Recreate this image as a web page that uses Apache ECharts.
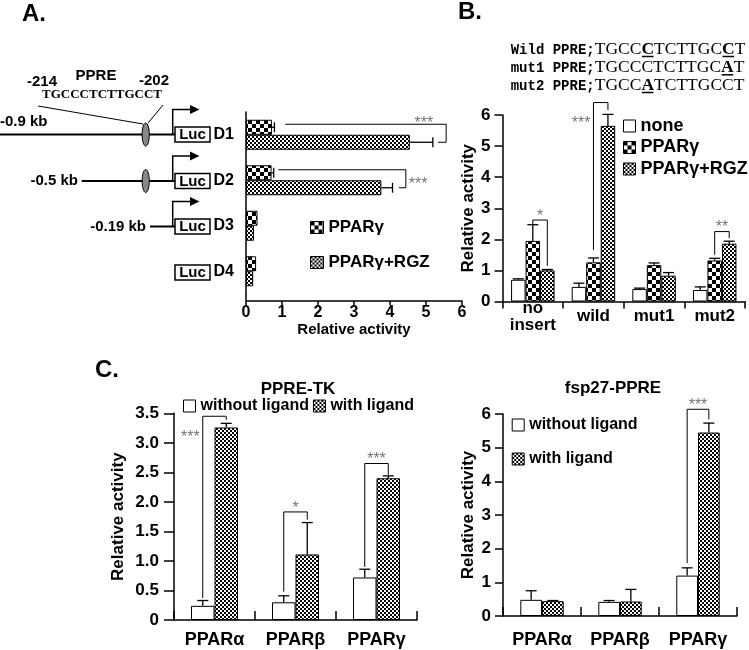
<!DOCTYPE html>
<html><head><meta charset="utf-8">
<script src="https://cdn.jsdelivr.net/npm/echarts@6/dist/echarts.min.js"></script>
<style>html,body{margin:0;padding:0;background:#fff}#c{width:749px;height:650px}</style>
</head><body><div id="c"></div>
<script>
// ---------- DATA ----------
// Panel A (horizontal bars)
const aCategories = ['D1', 'D2', 'D3', 'D4'];
const aPPARg = [0.72, 0.71, 0.32, 0.28];
const aPPARgErr = [0.07, 0.06, 0, 0];
const aRGZ = [4.55, 3.76, 0.22, 0.20];
const aRGZErr = [0.64, 0.31, 0, 0];
// brackets: [row, startX, cornerX, endX]
const aSig = [[0, 1.09, 5.56, 5.33], [1, 0.90, 4.44, 4.25]];
const aSigText = ['***', '***'];
const aSigPlace = ['topEnd', 'right'];

// Panel B
const bCategories = ['no\ninsert', 'wild', 'mut1', 'mut2'];
const bNone = [0.70, 0.47, 0.40, 0.37];
const bNoneErr = [0.03, 0.12, 0.03, 0.10];
const bPPARg = [1.95, 1.26, 1.17, 1.32];
const bPPARgErr = [0.52, 0.14, 0.07, 0.07];
const bRGZ = [1.00, 5.65, 0.83, 1.86];
const bRGZErr = [0.03, 0.37, 0.10, 0.08];
// brackets: [category, fromBar, toBar, startY, topY, endY]
const bSig = [[0, 1, 2, 2.46, 2.62, 1.15], [1, 1, 2, 1.66, 6.40, 6.16], [3, 1, 2, 1.50, 2.25, 2.04]];
const bSigText = ['*', '***', '**'];
const bSigPlace = ['top', 'left', 'top'];
const bSeqLines = [
  { label: 'Wild PPRE;', seq: 'TGCCCTCTTGCCT', marks: [4, 11] },
  { label: 'mut1 PPRE;', seq: 'TGCCCTCTTGCAT', marks: [11] },
  { label: 'mut2 PPRE;', seq: 'TGCCATCTTGCCT', marks: [4] }
];

// Panel C
const cCategories = ['PPARα', 'PPARβ', 'PPARγ'];
const tkWithout = [0.24, 0.30, 0.72];
const tkWithoutErr = [0.09, 0.11, 0.14];
const tkWith = [3.26, 1.11, 2.40];
const tkWithErr = [0.07, 0.54, 0.04];
const tkSig = [[0, 0, 1, 0.37, 3.45, 3.39], [1, 0, 1, 0.48, 1.83, 1.70], [2, 0, 1, 0.90, 2.65, 2.46]];
const tkSigText = ['***', '*', '***'];
const tkSigPlace = ['left', 'top', 'top'];

const fspWithout = [0.48, 0.42, 1.20];
const fspWithoutErr = [0.27, 0.04, 0.23];
const fspWith = [0.44, 0.43, 5.45];
const fspWithErr = [0.02, 0.36, 0.28];
const fspSig = [[2, 0, 1, 1.57, 6.14, 5.84]];
const fspSigText = ['***'];
const fspSigPlace = ['top'];

// ---------- STYLE HELPERS ----------
const FONT = '"Liberation Sans", Arial, Helvetica, sans-serif';
const SERIF = '"Liberation Serif", "Times New Roman", serif';
const MONO = '"Liberation Mono", "Courier New", monospace';

function checker(cell, dark) {
  const c = document.createElement('canvas');
  c.width = c.height = cell * 2;
  const x = c.getContext('2d');
  x.fillStyle = '#fff'; x.fillRect(0, 0, cell * 2, cell * 2);
  x.fillStyle = dark; x.fillRect(0, 0, cell, cell); x.fillRect(cell, cell, cell, cell);
  return c;
}
const COARSE = { image: checker(4, '#000'), repeat: 'repeat' };
const FINE = { image: checker(2, '#000'), repeat: 'repeat' };
const WHITE = '#fff';

const lbl = (size, extra) => Object.assign({ color: '#000', fontFamily: FONT, fontWeight: 'bold', fontSize: size }, extra || {});
const AX = { show: true, lineStyle: { color: '#000', width: 1.5 } };
const TICK = (len, inside) => ({ show: true, length: len, inside: !!inside, lineStyle: { color: '#000', width: 1.5 } });

function barSeries(name, xi, yi, data, color, bw) {
  return { type: 'bar', name, xAxisIndex: xi, yAxisIndex: yi, data, barWidth: bw, barGap: '0%',
    itemStyle: { color, borderColor: '#000', borderWidth: 1 }, silent: true, z: 2 };
}

function errSeries(xi, yi, vals, errs, bi, n, bw, horiz) {
  return {
    type: 'custom', name: 'err', xAxisIndex: xi, yAxisIndex: yi, z: 4, silent: true, clip: false,
    encode: horiz ? { x: 1, y: 0 } : { x: 0, y: 1 },
    data: vals.map((v, i) => [i, v, errs[i]]),
    renderItem(params, api) {
      const c = api.value(0), v = api.value(1), e = api.value(2);
      if (!e) return { type: 'group', children: [] };
      const off = (bi - (n - 1) / 2) * bw;
      const st = { stroke: '#000', lineWidth: 1.3 };
      if (horiz) {
        const p0 = api.coord([v, c]), p1 = api.coord([v + e, c]);
        const y = p0[1] + off;
        return { type: 'group', children: [
          { type: 'line', shape: { x1: p0[0], y1: y, x2: p1[0], y2: y }, style: st },
          { type: 'line', shape: { x1: p1[0], y1: y - 5, x2: p1[0], y2: y + 5 }, style: st }] };
      }
      const p0 = api.coord([c, v]), p1 = api.coord([c, v + e]);
      const x = p0[0] + off;
      return { type: 'group', children: [
        { type: 'line', shape: { x1: x, y1: p0[1], x2: x, y2: p1[1] }, style: st },
        { type: 'line', shape: { x1: x - 5.5, y1: p1[1], x2: x + 5.5, y2: p1[1] }, style: st }] };
    }
  };
}

function sigSeries(xi, yi, rows, texts, places, n, bw) {
  return {
    type: 'custom', name: 'sig', xAxisIndex: xi, yAxisIndex: yi, z: 5, silent: true, clip: false,
    encode: { x: 0, y: 3 },
    data: rows,
    renderItem(params, api) {
      const cat = api.value(0), b0 = api.value(1), b1 = api.value(2);
      const y0 = api.value(3), yt = api.value(4), y1 = api.value(5);
      const off = b => (b - (n - 1) / 2) * bw;
      const base = api.coord([cat, 0])[0];
      const xa = base + off(b0), xb = base + off(b1);
      const pa = api.coord([cat, y0])[1], pt = api.coord([cat, yt])[1], pb = api.coord([cat, y1])[1];
      const text = texts[params.dataIndex], place = places[params.dataIndex];
      let tx, ty, align;
      if (place === 'left') { tx = xa - 3; ty = pt + 21; align = 'right'; }
      else { tx = (xa + xb) / 2; ty = pt - 3.5; align = 'center'; }
      return { type: 'group', children: [
        { type: 'polyline', shape: { points: [[xa, pa], [xa, pt], [xb, pt], [xb, pb]] }, style: { stroke: '#000', lineWidth: 1, fill: null } },
        { type: 'text', x: tx, y: ty, style: { text, fill: '#777', font: '16px ' + FONT, align, verticalAlign: 'middle' } }] };
    }
  };
}

function sigSeriesH(xi, yi, rows, texts, places, n, bw) {
  return {
    type: 'custom', name: 'sigH', xAxisIndex: xi, yAxisIndex: yi, z: 5, silent: true, clip: false,
    encode: { x: 1, y: 0 },
    data: rows,
    renderItem(params, api) {
      const r = api.value(0), sx = api.value(1), cx = api.value(2), ex = api.value(3);
      const off = b => (b - (n - 1) / 2) * bw;
      const yc = api.coord([0, r])[1];
      const ya = yc + off(0) - 3, yb = yc + off(1);
      const X = v => api.coord([v, r])[0];
      const text = texts[params.dataIndex], place = places[params.dataIndex];
      let tx, ty, align;
      if (place === 'topEnd') { tx = X(cx) - 13; ty = ya - 1; align = 'right'; }
      else { tx = X(cx) + 3; ty = (ya + yb) / 2 + 5.5; align = 'left'; }
      return { type: 'group', children: [
        { type: 'polyline', shape: { points: [[X(sx), ya], [X(cx), ya], [X(cx), yb], [X(ex), yb]] }, style: { stroke: '#000', lineWidth: 1, fill: null } },
        { type: 'text', x: tx, y: ty, style: { text, fill: '#777', font: '16px ' + FONT, align, verticalAlign: 'middle' } }] };
    }
  };
}

// ---------- GRAPHIC (diagram + panel text) ----------
const g = [];
function T(x, y, text, size, align, font) {
  g.push({ type: 'text', x, y, silent: true, z: 20,
    style: { text, font: font || ('bold ' + size + 'px ' + FONT), fill: '#000', align: align || 'left', verticalAlign: 'middle' } });
}
function L(x1, y1, x2, y2, w) {
  g.push({ type: 'line', silent: true, z: 10, shape: { x1, y1, x2, y2 }, style: { stroke: '#000', lineWidth: w || 1 } });
}
T(22, 14, 'A.', 24);
T(458, 12, 'B.', 24);
T(95, 370, 'C.', 24);

// Panel A promoter diagram
T(96, 76, 'PPRE', 15, 'center');
T(42, 82, '-214', 15, 'center');
T(154, 81, '-202', 15, 'center');
T(102, 95, 'TGCCCTCTTGCCT', 13, 'center', 'bold 13px ' + SERIF);
L(38, 106, 143, 124, 1);
L(163, 105, 148, 123, 1);
const diagRows = [
  { y: 134.5, start: 0, label: '-0.9 kb', lx: 0, ly: 121.7, la: 'left', ppre: true },
  { y: 181, start: 81.7, label: '-0.5 kb', lx: 78, ly: 181, la: 'right', ppre: true },
  { y: 226.5, start: 150, label: '-0.19 kb', lx: 146, ly: 226.5, la: 'right', ppre: false },
  { y: 272.5 }
];
diagRows.forEach(r => {
  if (r.start !== undefined) {
    L(r.start, r.y, 175, r.y, 2);
    T(r.lx, r.ly, r.label, 15, r.la);
    if (r.ppre) g.push({ type: 'ellipse', silent: true, z: 11, shape: { cx: 145.7, cy: r.y, rx: 3.6, ry: 11.5 }, style: { fill: '#888', stroke: '#000', lineWidth: 1 } });
    const ay = r.y - 25;
    g.push({ type: 'polyline', silent: true, z: 10, shape: { points: [[172.7, r.y], [172.7, ay], [191, ay]] }, style: { stroke: '#000', lineWidth: 1.5, fill: null } });
    g.push({ type: 'polygon', silent: true, z: 10, shape: { points: [[190, ay - 4.5], [199.5, ay], [190, ay + 4.5]] }, style: { fill: '#000' } });
  }
  g.push({ type: 'rect', silent: true, z: 11, shape: { x: 175, y: r.y - 7.5, width: 35, height: 15 }, style: { fill: '#fff', stroke: '#000', lineWidth: 1.5 } });
  T(192.5, r.y + 0.5, 'Luc', 15, 'center');
});
// join of panel A axes (x axis sits slightly below the last row band)
L(246, 294, 246, 301, 1.5);

// Panel B sequences
(function () {
  const ctx = document.createElement('canvas').getContext('2d');
  const monoFont = 'bold 14px ' + MONO;
  const serifFont = '17.5px ' + SERIF;
  const serifBold = 'bold 17.5px ' + SERIF;
  const ys = [50, 68.3, 86];
  bSeqLines.forEach((ln, k) => {
    const y = ys[k];
    let x = 510.7;
    g.push({ type: 'text', silent: true, z: 20, x, y, style: { text: ln.label, font: monoFont, fill: '#000', align: 'left', verticalAlign: 'middle' } });
    ctx.font = monoFont;
    x += ctx.measureText(ln.label).width;
    for (let i = 0; i < ln.seq.length; i++) {
      const ch = ln.seq[i];
      const marked = ln.marks.indexOf(i) >= 0;
      const f = marked ? serifBold : serifFont;
      ctx.font = f;
      const w = ctx.measureText(ch).width;
      g.push({ type: 'text', silent: true, z: 20, x, y: y - 1, style: { text: ch, font: f, fill: '#000', align: 'left', verticalAlign: 'middle' } });
      if (marked) L(x + 0.5, y + 6.5, x + w - 0.5, y + 6.5, 1.5);
      x += w;
    }
  });
})();

// Panel C titles
T(298, 389, 'PPRE-TK', 17, 'center');
T(613, 388, 'fsp27-PPRE', 17, 'center');

// ---------- CHART ----------
const chart = echarts.init(document.getElementById('c'), null, { renderer: 'canvas' });
const option = {
  animation: false,
  backgroundColor: '#fff',
  grid: [
    { left: 246, top: 112, width: 216, height: 182 },
    { left: 502.5, top: 115, width: 242.5, height: 186.5 },
    { left: 174, top: 413.3, width: 243, height: 206.7 },
    { left: 503, top: 414, width: 234, height: 202 }
  ],
  xAxis: [
    { gridIndex: 0, type: 'value', min: 0, max: 6, interval: 1, offset: 7,
      axisLine: AX, axisTick: TICK(4), splitLine: { show: false },
      axisLabel: lbl(16, { margin: 12, verticalAlign: 'middle' }),
      name: 'Relative activity', nameLocation: 'middle', nameGap: 27,
      nameTextStyle: lbl(15, { verticalAlign: 'middle' }) },
    { gridIndex: 1, type: 'category', data: bCategories,
      axisLine: AX, axisTick: Object.assign(TICK(7), { interval: 0, alignWithLabel: false }),
      axisLabel: lbl(17, { margin: 15, verticalAlign: 'middle', lineHeight: 17, interval: 0 }) },
    { gridIndex: 2, type: 'category', data: cCategories,
      axisLine: AX, axisTick: Object.assign(TICK(9, true), { interval: 0 }),
      axisLabel: lbl(18, { margin: 20, verticalAlign: 'middle', interval: 0 }) },
    { gridIndex: 3, type: 'category', data: cCategories,
      axisLine: AX, axisTick: Object.assign(TICK(9, true), { interval: 0 }),
      axisLabel: lbl(18, { margin: 24, verticalAlign: 'middle', interval: 0 }) }
  ],
  yAxis: [
    { gridIndex: 0, type: 'category', data: aCategories, inverse: true,
      axisLine: AX, axisTick: { show: false }, axisLabel: lbl(16, { margin: 12 }) },
    { gridIndex: 1, type: 'value', min: 0, max: 6, interval: 1,
      axisLine: AX, axisTick: TICK(8), splitLine: { show: false },
      axisLabel: lbl(17, { margin: 12 }),
      name: 'Relative activity', nameLocation: 'middle', nameGap: 31.5,
      nameTextStyle: lbl(17, { verticalAlign: 'middle' }) },
    { gridIndex: 2, type: 'value', min: 0, max: 3.5, interval: 0.5,
      axisLine: AX, axisTick: TICK(10), splitLine: { show: false },
      axisLabel: lbl(17, { margin: 15, formatter: v => (v === 0 ? '0' : v.toFixed(1)) }),
      name: 'Relative activity', nameLocation: 'middle', nameGap: 56,
      nameTextStyle: lbl(17, { verticalAlign: 'middle' }) },
    { gridIndex: 3, type: 'value', min: 0, max: 6, interval: 1,
      axisLine: AX, axisTick: TICK(8), splitLine: { show: false },
      axisLabel: lbl(17, { margin: 12 }),
      name: 'Relative activity', nameLocation: 'middle', nameGap: 35,
      nameTextStyle: lbl(17, { verticalAlign: 'middle' }) }
  ],
  legend: [
    { data: ['PPARγ', 'PPARγ+RGZ'], orient: 'vertical', left: 310, top: 219, padding: 0,
      icon: 'rect', itemWidth: 13, itemHeight: 12, itemGap: 18, selectedMode: false,
      itemStyle: { borderColor: '#000', borderWidth: 1 }, textStyle: lbl(17, { lineHeight: 17 }) },
    { data: ['none', 'PPARγ', 'PPARγ+RGZ'], orient: 'vertical', left: 623, top: 117, padding: 0,
      icon: 'rect', itemWidth: 12, itemHeight: 12, itemGap: 3.5, selectedMode: false,
      itemStyle: { borderColor: '#000', borderWidth: 1 }, textStyle: lbl(18, { lineHeight: 18 }) },
    { data: ['without ligand', 'with ligand'], orient: 'horizontal', left: 183, top: 398, padding: 0,
      icon: 'rect', itemWidth: 12, itemHeight: 12, itemGap: 4, selectedMode: false,
      itemStyle: { borderColor: '#000', borderWidth: 1 }, textStyle: lbl(16, { lineHeight: 16 }) },
    { data: ['without ligand', 'with ligand'], orient: 'vertical', left: 511.7, top: 417, padding: 0,
      icon: 'rect', itemWidth: 12, itemHeight: 12, itemGap: 18, selectedMode: false,
      itemStyle: { borderColor: '#000', borderWidth: 1 }, textStyle: lbl(16, { lineHeight: 16 }) }
  ],
  series: [
    // A
    barSeries('PPARγ', 0, 0, aPPARg, COARSE, 15),
    barSeries('PPARγ+RGZ', 0, 0, aRGZ, FINE, 15),
    errSeries(0, 0, aPPARg, aPPARgErr, 0, 2, 15, true),
    errSeries(0, 0, aRGZ, aRGZErr, 1, 2, 15, true),
    sigSeriesH(0, 0, aSig, aSigText, aSigPlace, 2, 15),
    // B
    barSeries('none', 1, 1, bNone, WHITE, 14.5),
    barSeries('PPARγ', 1, 1, bPPARg, COARSE, 14.5),
    barSeries('PPARγ+RGZ', 1, 1, bRGZ, FINE, 14.5),
    errSeries(1, 1, bNone, bNoneErr, 0, 3, 14.5),
    errSeries(1, 1, bPPARg, bPPARgErr, 1, 3, 14.5),
    errSeries(1, 1, bRGZ, bRGZErr, 2, 3, 14.5),
    sigSeries(1, 1, bSig, bSigText, bSigPlace, 3, 14.5),
    // C left
    barSeries('without ligand', 2, 2, tkWithout, WHITE, 23.5),
    barSeries('with ligand', 2, 2, tkWith, FINE, 23.5),
    errSeries(2, 2, tkWithout, tkWithoutErr, 0, 2, 23.5),
    errSeries(2, 2, tkWith, tkWithErr, 1, 2, 23.5),
    sigSeries(2, 2, tkSig, tkSigText, tkSigPlace, 2, 23.5),
    // C right
    barSeries('without ligand', 3, 3, fspWithout, WHITE, 21.7),
    barSeries('with ligand', 3, 3, fspWith, FINE, 21.7),
    errSeries(3, 3, fspWithout, fspWithoutErr, 0, 2, 21.7),
    errSeries(3, 3, fspWith, fspWithErr, 1, 2, 21.7),
    sigSeries(3, 3, fspSig, fspSigText, fspSigPlace, 2, 21.7)
  ],
  graphic: { elements: g }
};
chart.setOption(option);
</script></body></html>
